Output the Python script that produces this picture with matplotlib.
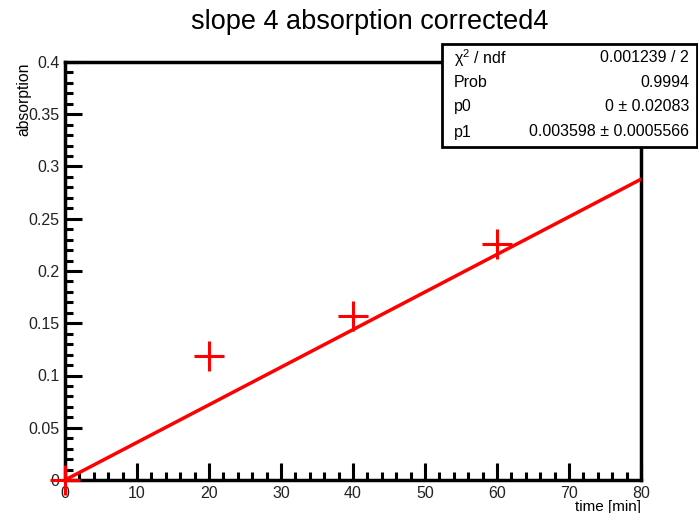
import numpy as np
import matplotlib.pyplot as plt
from matplotlib.ticker import MultipleLocator
from matplotlib.patches import Rectangle

plt.rcParams['font.family'] = ['Liberation Sans', 'DejaVu Sans']
plt.rcParams['mathtext.fontset'] = 'custom'
plt.rcParams['mathtext.rm'] = 'Liberation Sans'

# measured data
time_min = [0, 20, 40, 60]
absorption = [0.0, 0.119, 0.157, 0.226]

# fit results (pol1)
p0 = 0.0
p1 = 0.003598
stats_labels = [r'χ$^{\mathrm{2}}$ / ndf', 'Prob', 'p0', 'p1']
stats_values = ['0.001239 / 2', '0.9994', '0 ± 0.02083',
                '0.003598 ± 0.0005566']

W, H = 698, 513
fig = plt.figure(figsize=(W / 100, H / 100), dpi=100)
ax = fig.add_axes([65 / W, 1 - 480 / H, (641 - 65) / W, (480 - 62) / H])

xfit = np.array([0, 80])
ax.plot(xfit, p0 + p1 * xfit, color='red', lw=2.5, zorder=3)
ax.plot(time_min, absorption, ls='none', marker='+', ms=21, mew=2.2,
        color='red', clip_on=False, zorder=4)

ax.set_xlim(0, 80)
ax.set_ylim(0, 0.4)
ax.xaxis.set_major_locator(MultipleLocator(10))
ax.xaxis.set_minor_locator(MultipleLocator(2))
ax.yaxis.set_major_locator(MultipleLocator(0.05))
ax.yaxis.set_minor_locator(MultipleLocator(0.01))
ax.xaxis.set_major_formatter(plt.FuncFormatter(lambda v, _: f'{v:g}'))
ax.yaxis.set_major_formatter(plt.FuncFormatter(lambda v, _: f'{v:g}'))
ax.tick_params(which='both', direction='in', width=2.2, labelsize=11.5,
               colors='black', labelcolor='#222222', top=False, right=False)
ax.tick_params(which='major', length=12, pad=4)
ax.tick_params(which='minor', length=6)
for s in ax.spines.values():
    s.set_linewidth(2.5)

fig.text(370 / W, 1 - 22 / H, 'slope 4 absorption corrected4',
         ha='center', va='center', fontsize=19.5)
fig.text(641 / W, 1 - 507 / H, 'time [min]', ha='right', va='center',
         fontsize=11)
fig.text(24 / W, 1 - 62 / H, 'absorption', ha='center', va='top',
         rotation=90, fontsize=11.3)

# stats box
bx0, by0, bx1, by1 = 442, 44, 697, 147
fig.patches.append(Rectangle((bx0 / W, 1 - by1 / H), (bx1 - bx0) / W,
                             (by1 - by0) / H, transform=fig.transFigure,
                             facecolor='white', edgecolor='black', lw=2,
                             zorder=10))
rows_y = [58, 83, 107, 132]
for lab, val, yy in zip(stats_labels, stats_values, rows_y):
    fig.text(454 / W, 1 - yy / H, lab, ha='left', va='center',
             fontsize=11.5, zorder=11)
    fig.text(689 / W, 1 - yy / H, val, ha='right', va='center',
             fontsize=11.5, zorder=11)

fig.savefig('out.png', dpi=100)
